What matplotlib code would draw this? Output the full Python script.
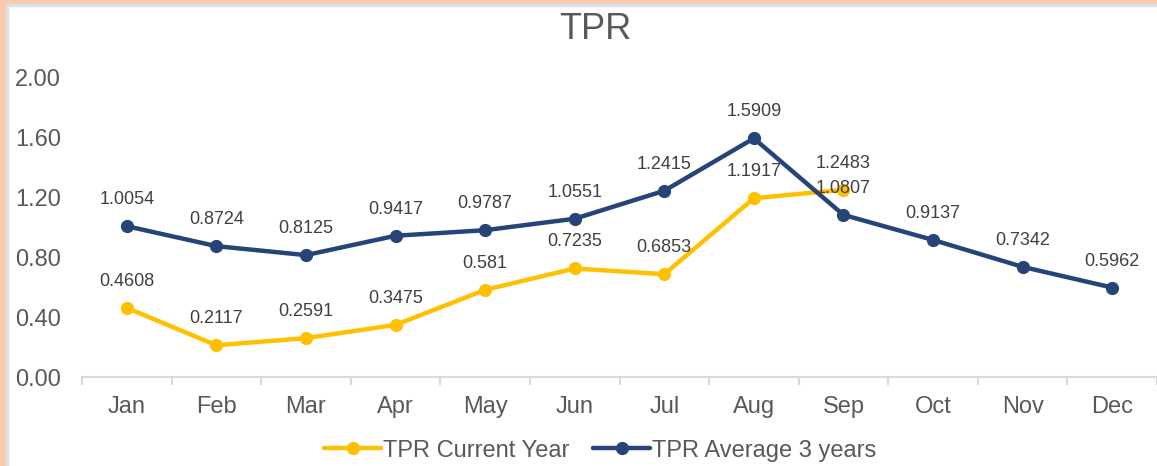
import matplotlib
matplotlib.use("Agg")
import matplotlib.pyplot as plt
from matplotlib.patches import Rectangle

plt.rcParams['font.family'] = ['Liberation Sans', 'DejaVu Sans']

# Chart data
months = ['Jan', 'Feb', 'Mar', 'Apr', 'May', 'Jun', 'Jul', 'Aug', 'Sep', 'Oct', 'Nov', 'Dec']
tpr_current = [0.4608, 0.2117, 0.2591, 0.3475, 0.581, 0.7235, 0.6853, 1.1917, 1.2483]
tpr_avg3 = [1.0054, 0.8724, 0.8125, 0.9417, 0.9787, 1.0551, 1.2415, 1.5909, 1.0807, 0.9137, 0.7342, 0.5962]
y_ticks = [0.0, 0.4, 0.8, 1.2, 1.6, 2.0]

yellow = '#FFC000'
navy = '#264478'
text_col = '#595959'
label_col = '#404040'

fig = plt.figure(figsize=(11.57, 4.66), dpi=100)
ax = fig.add_axes([82 / 1157, 89 / 466, 1 - 82 / 1157, 300 / 466])

x_cur = list(range(len(tpr_current)))
x_avg = list(range(len(tpr_avg3)))

ax.plot(x_cur, tpr_current, color=yellow, lw=3.2, marker='o', ms=8.5,
        label='TPR Current Year', solid_capstyle='round', zorder=3)
ax.plot(x_avg, tpr_avg3, color=navy, lw=3.2, marker='o', ms=8.5,
        label='TPR Average 3 years', solid_capstyle='round', zorder=4)

# data labels
for xi, v in zip(x_cur, tpr_current):
    ax.annotate(f'{v:g}', (xi, v), xytext=(0, 13), textcoords='offset points',
                ha='center', va='bottom', fontsize=13, color=label_col, zorder=5)
for xi, v in zip(x_avg, tpr_avg3):
    ax.annotate(f'{v:g}', (xi, v), xytext=(0, 13), textcoords='offset points',
                ha='center', va='bottom', fontsize=13, color=label_col, zorder=5)

ax.set_xlim(-0.5, len(months) - 0.5)
ax.set_ylim(0, 2.0)
ax.set_yticks(y_ticks)
ax.set_yticklabels([f'{t:.2f}' for t in y_ticks])
ax.tick_params(axis='y', length=0, pad=15, labelsize=17, labelcolor=text_col)

# category ticks: marks at boundaries, labels at centers
ax.set_xticks([i - 0.5 for i in range(len(months) + 1)])
ax.set_xticklabels([])
ax.set_xticks(x_avg, minor=True)
ax.set_xticklabels(months, minor=True)
ax.tick_params(axis='x', which='major', length=6, width=1.5, color='#D9D9D9')
ax.tick_params(axis='x', which='minor', length=0, pad=14, labelsize=17, labelcolor=text_col)

for s in ['top', 'right', 'left']:
    ax.spines[s].set_visible(False)
ax.spines['bottom'].set_color('#D9D9D9')
ax.spines['bottom'].set_linewidth(1.5)

fig.text(0.515, 0.936, 'TPR', ha='center', va='center', fontsize=26, color=text_col)

fig.legend(loc='center', bbox_to_anchor=(0.519, 0.033), ncol=2, frameon=False,
           fontsize=17, labelcolor=text_col, handlelength=2.4, handletextpad=0.1,
           columnspacing=1.0)

# peach frame on top and left edges
fig.add_artist(Rectangle((0, 0), 6 / 1157, 1, transform=fig.transFigure,
                         color='#F8CBAD', zorder=10))
fig.add_artist(Rectangle((0, 1 - 4 / 466), 1, 4 / 466, transform=fig.transFigure,
                         color='#F8CBAD', zorder=10))
fig.add_artist(Rectangle((6 / 1157, 0), 1.5 / 1157, 1 - 4 / 466, transform=fig.transFigure,
                         color='#DDE0E4', zorder=10))
fig.add_artist(Rectangle((6 / 1157, 1 - 5.5 / 466), 1, 1.5 / 466, transform=fig.transFigure,
                         color='#DDE0E4', zorder=10))

fig.savefig('out.png', dpi=100)
